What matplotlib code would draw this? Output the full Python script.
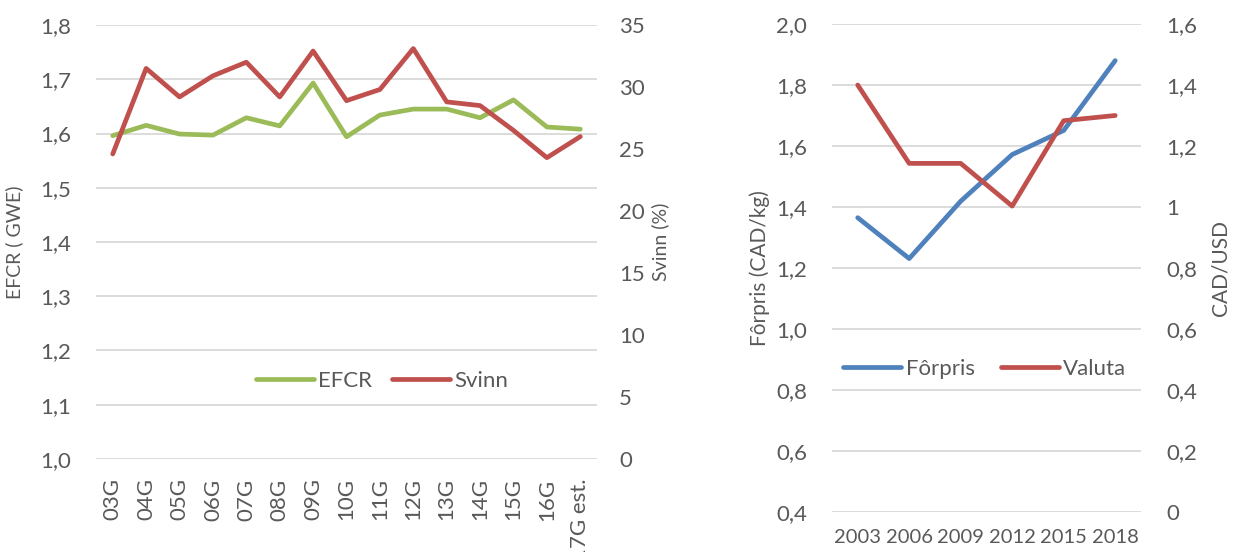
import matplotlib
matplotlib.use('Agg')
import matplotlib.pyplot as plt

# ------------------------------------------------------------------------------
# data
# ------------------------------------------------------------------------------
generations = ['03G', '04G', '05G', '06G', '07G', '08G', '09G', '10G', '11G',
               '12G', '13G', '14G', '15G', '16G', '17G est.']
efcr = [1.596, 1.615, 1.599, 1.597, 1.629, 1.614, 1.693, 1.594, 1.634,
        1.645, 1.645, 1.629, 1.662, 1.612, 1.608]
svinn = [24.6, 31.5, 29.2, 30.9, 32.0, 29.2, 32.9, 28.9, 29.8,
         33.1, 28.8, 28.5, 26.5, 24.3, 26.0]

years = ['2003', '2006', '2009', '2012', '2015', '2018']
forpris = [1.365, 1.231, 1.419, 1.572, 1.651, 1.880]
valuta = [1.40, 1.143, 1.143, 1.003, 1.283, 1.30]

left_ticks = [1.0, 1.1, 1.2, 1.3, 1.4, 1.5, 1.6, 1.7, 1.8]
svinn_ticks = [0, 5, 10, 15, 20, 25, 30, 35]
forpris_ticks = [0.4, 0.6, 0.8, 1.0, 1.2, 1.4, 1.6, 1.8, 2.0]
valuta_ticks = [0, 0.2, 0.4, 0.6, 0.8, 1.0, 1.2, 1.4, 1.6]

GREEN = '#9BBB59'
RED = '#C0504D'
BLUE = '#4F81BD'
TEXT = '#595959'
GRID = '#D9D9D9'

plt.rcParams['font.family'] = ['Lato', 'DejaVu Sans']
plt.rcParams['font.size'] = 16


def comma(v, decimals=1):
    return f'{v:.{decimals}f}'.replace('.', ',')


def general(v):
    # Excel "General" format: no trailing zeros
    return f'{v:g}'.replace('.', ',')


def style(ax):
    for s in ax.spines.values():
        s.set_visible(False)
    ax.tick_params(length=0, colors=TEXT)


fig = plt.figure(figsize=(12.36, 5.52), dpi=100)

# --- left chart ---------------------------------------------------------------
ax1 = fig.add_axes([0.0777, 0.1685, 0.4053, 0.7862])
ax1b = ax1.twinx()
x1 = range(len(generations))

ax1.set_ylim(1.0, 1.8)
ax1.set_yticks(left_ticks)
ax1.set_yticklabels([comma(v) for v in left_ticks])
ax1.grid(axis='y', color=GRID, lw=1.3)
ax1.set_axisbelow(True)
l1, = ax1.plot(x1, efcr, color=GREEN, lw=3.4, solid_capstyle='round',
               label='EFCR', zorder=3)
ax1.set_xlim(-0.5, len(generations) - 0.5)
ax1.set_xticks(list(x1))
ax1.set_xticklabels(generations, rotation=90, va='top')
ax1.tick_params(axis='y', pad=18)
ax1.tick_params(axis='x', pad=14)
ax1.set_ylabel('EFCR ( GWE)', color=TEXT, fontsize=14)
ax1.yaxis.set_label_coords(-0.145, 0.5)

ax1b.set_ylim(0, 35)
ax1b.set_yticks(svinn_ticks)
ax1b.set_yticklabels([str(v) for v in svinn_ticks])
l2, = ax1b.plot(x1, svinn, color=RED, lw=3.4, solid_capstyle='round',
                label='Svinn', zorder=3)
ax1b.tick_params(axis='y', pad=16)
ax1b.set_ylabel('Svinn (%)', color=TEXT, fontsize=14)
ax1b.yaxis.set_label_coords(1.108, 0.5)
style(ax1)
style(ax1b)

ax1b.legend(handles=[l1, l2], loc='center', bbox_to_anchor=(0.571, 0.18),
            ncol=2, frameon=False, labelcolor=TEXT, handlelength=2.6,
            columnspacing=0.9, handletextpad=0.2, fontsize=16)

# --- right chart --------------------------------------------------------------
ax2 = fig.add_axes([0.6731, 0.0725, 0.2500, 0.884])
ax2b = ax2.twinx()
x2 = range(len(years))

ax2.set_ylim(0.4, 2.0)
ax2.set_yticks(forpris_ticks)
ax2.set_yticklabels([comma(v) for v in forpris_ticks])
ax2.grid(axis='y', color=GRID, lw=1.3)
ax2.set_axisbelow(True)
l3, = ax2.plot(x2, forpris, color=BLUE, lw=3.4, solid_capstyle='round',
               label='Fôrpris', zorder=3)
ax2.set_xlim(-0.5, len(years) - 0.5)
ax2.set_xticks(list(x2))
ax2.set_xticklabels(years, fontsize=14.5)
ax2.tick_params(axis='y', pad=18)
ax2.tick_params(axis='x', pad=12)
ax2.set_ylabel('Fôrpris (CAD/kg)', color=TEXT, fontsize=15)
ax2.yaxis.set_label_coords(-0.2, 0.5)

ax2b.set_ylim(0, 1.6)
ax2b.set_yticks(valuta_ticks)
ax2b.set_yticklabels([general(round(v, 1)) for v in valuta_ticks])
l4, = ax2b.plot(x2, valuta, color=RED, lw=3.4, solid_capstyle='round',
                label='Valuta', zorder=3)
ax2b.tick_params(axis='y', pad=18)
ax2b.set_ylabel('CAD/USD', color=TEXT, fontsize=15)
ax2b.yaxis.set_label_coords(1.225, 0.5)
style(ax2)
style(ax2b)

ax2b.legend(handles=[l3, l4], loc='center', bbox_to_anchor=(0.495, 0.293),
            ncol=2, frameon=False, labelcolor=TEXT, handlelength=2.6,
            columnspacing=1.2, handletextpad=0.2, fontsize=16)

fig.savefig('out.png', dpi=100)
